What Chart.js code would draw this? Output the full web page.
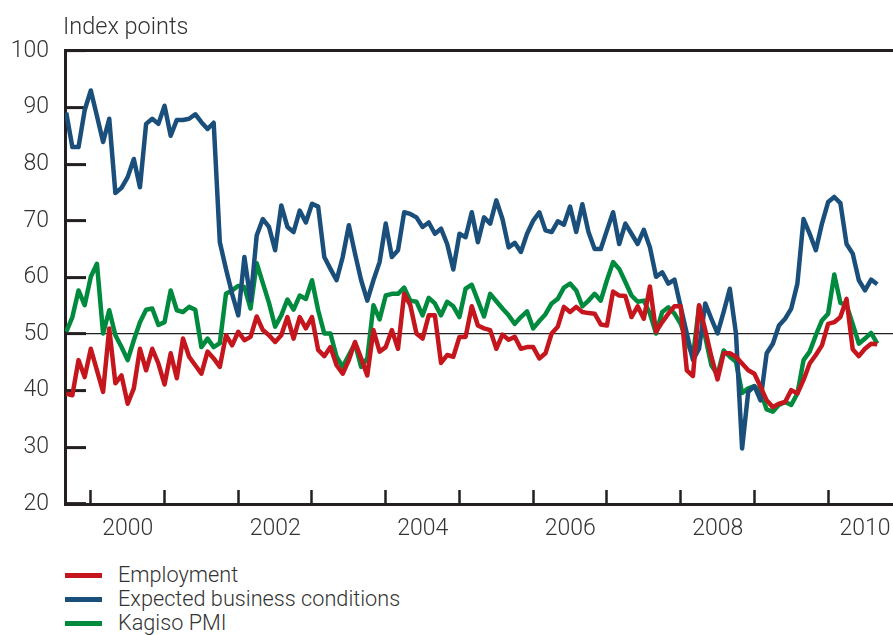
<!DOCTYPE html>
<html>
<head>
<meta charset="utf-8">
<title>Business confidence indices</title>
<script src="https://cdn.jsdelivr.net/npm/chart.js@4.4.0/dist/chart.umd.min.js"></script>
<style>
  html, body { margin: 0; padding: 0; background: #fff; }
  #wrap {
    position: relative; width: 893px; height: 635px; overflow: hidden;
    font-family: Roboto, 'Liberation Sans', sans-serif; font-weight: 300; color: #333;
  }
  #chart-box { position: absolute; left: 0; top: 0; width: 893px; height: 560px; }
  #unit { position: absolute; left: 63px; top: 13px; font-size: 23.5px; line-height: 26px; }
  #legend { position: absolute; left: 65px; top: 563px; margin: 0; padding: 0; list-style: none; font-size: 21.7px; }
  #legend li { display: flex; align-items: center; height: 24px; line-height: 24px; }
  #legend .swatch { width: 37px; height: 5px; margin-right: 16px; }
</style>
</head>
<body>
<div id="wrap">
  <div id="chart-box"><canvas id="pmi-chart"></canvas></div>
  <div id="unit">Index points</div>
  <ul id="legend"></ul>
</div>
<script>
// monthly series, September 1999 to September 2010
const startYear = 1999;
const startMonth = 8; // zero-based: September

const employment = [
  39.5, 39.2, 45.4, 42.4, 47.4, 43.6, 39.8, 51.0, 41.3, 42.7, 37.7, 40.4,
  47.4, 43.6, 47.4, 44.8, 41.1, 46.6, 42.2, 49.2, 46.0, 44.5, 43.0, 46.9,
  45.7, 44.2, 49.8, 48.0, 50.4, 48.9, 49.5, 53.1, 50.7, 49.8, 48.6, 49.8,
  53.0, 49.2, 53.0, 51.0, 53.0, 47.2, 46.1, 47.7, 44.5, 43.0, 45.4, 48.6,
  45.7, 42.7, 50.7, 46.9, 47.7, 50.7, 47.4, 57.1, 55.1, 50.1, 49.2, 53.3,
  53.3, 44.9, 46.3, 46.0, 49.5, 49.5, 54.9, 51.5, 51.0, 50.7, 47.4, 49.9,
  49.0, 49.5, 47.4, 47.7, 47.7, 45.7, 46.6, 50.1, 51.3, 54.8, 53.9, 54.8,
  53.9, 53.7, 53.6, 51.7, 51.5, 57.5, 56.8, 56.7, 53.0, 54.9, 52.7, 58.4,
  50.4, 52.1, 53.6, 54.9, 54.9, 43.6, 42.6, 55.1, 50.7, 46.0, 42.0, 46.6,
  46.6, 46.0, 44.8, 43.6, 43.0, 40.7, 38.3, 37.1, 37.7, 38.0, 40.1, 39.5,
  41.9, 44.8, 46.3, 48.0, 51.8, 52.1, 53.0, 56.2, 47.3, 46.1, 47.4, 48.3,
  48.2
];

const expectedConditions = [
  89.1, 83.0, 83.0, 89.5, 93.0, 88.5, 83.9, 88.0, 74.9, 75.8, 77.7, 80.9,
  75.9, 87.1, 88.0, 87.1, 90.3, 85.0, 87.8, 87.8, 88.0, 88.8, 87.4, 86.2,
  87.3, 66.2, 61.5, 57.1, 53.3, 63.6, 55.9, 67.4, 70.3, 68.9, 64.8, 72.7,
  68.9, 68.0, 71.8, 69.7, 73.0, 72.5, 63.6, 61.5, 59.5, 63.6, 69.2, 64.2,
  59.5, 55.9, 59.5, 62.7, 69.5, 63.6, 64.8, 71.5, 71.2, 70.6, 68.9, 69.7,
  67.7, 68.6, 65.9, 61.4, 67.7, 67.1, 71.5, 66.2, 70.6, 69.5, 73.6, 70.3,
  65.3, 66.1, 64.5, 67.7, 70.0, 71.5, 68.3, 68.0, 69.9, 69.3, 72.5, 68.0,
  72.9, 68.0, 65.0, 65.0, 68.3, 71.5, 65.9, 69.5, 67.7, 65.9, 68.4, 65.3,
  60.1, 60.9, 58.9, 59.6, 54.8, 50.1, 45.4, 47.4, 55.4, 52.7, 50.1, 53.9,
  58.0, 50.1, 29.8, 39.8, 40.8, 38.3, 46.6, 48.3, 51.5, 52.7, 54.5, 58.9,
  70.3, 67.7, 64.8, 69.5, 73.3, 74.2, 73.1, 65.9, 64.2, 59.5, 57.7, 59.6,
  58.8
];

const kagisoPmi = [
  50.4, 53.0, 57.7, 55.1, 60.1, 62.4, 50.1, 54.2, 49.8, 47.7, 45.4, 48.9,
  52.1, 54.3, 54.5, 51.6, 52.1, 57.7, 54.2, 53.9, 54.8, 54.3, 47.7, 49.2,
  47.7, 48.4, 57.1, 57.7, 58.5, 58.3, 54.5, 62.5, 59.0, 55.5, 51.3, 53.3,
  56.1, 54.3, 56.8, 56.2, 59.5, 54.2, 50.1, 50.1, 46.0, 44.2, 46.3, 48.3,
  44.2, 45.7, 55.1, 52.6, 56.8, 57.1, 57.1, 58.2, 55.9, 55.7, 53.3, 56.4,
  55.4, 53.3, 55.7, 54.9, 53.0, 58.0, 58.7, 55.9, 53.1, 57.1, 55.8, 54.5,
  53.3, 51.8, 53.0, 54.0, 51.0, 52.3, 53.5, 55.4, 56.2, 58.2, 58.9, 57.7,
  54.9, 55.9, 57.1, 55.9, 59.5, 62.7, 61.5, 59.2, 56.8, 55.7, 55.9, 53.6,
  50.1, 53.9, 54.7, 53.6, 51.8, 48.7, 46.0, 55.0, 49.5, 44.5, 42.8, 47.1,
  46.0, 45.1, 39.6, 40.4, 40.8, 39.8, 36.7, 36.3, 37.5, 38.0, 37.5, 39.5,
  45.4, 46.9, 49.8, 52.4, 53.6, 60.5, 55.5, 55.1, 51.8, 48.3, 49.2, 50.2,
  48.3
];

const yearTicks = [2000, 2001, 2002, 2003, 2004, 2005, 2006, 2007, 2008, 2009, 2010];
const labelledYears = [2000, 2002, 2004, 2006, 2008, 2010];

const axisMin = 1999.65;
const axisMax = 2010.88;
const ink = '#231f20';
const textGrey = '#333333';
const fontFamily = "Roboto, 'Liberation Sans', sans-serif";
const tickFont = { family: fontFamily, size: 23, weight: 300 };

// decimal-year position of each month
const monthPositions = employment.map((_, i) => startYear + (startMonth + i) / 12);

function toPoints(values) {
    return values.map((v, i) => ({ x: monthPositions[i], y: v }));
}

function lineSet(label, values, colour) {
    return {
        label: label,
        data: toPoints(values),
        borderColor: colour,
        backgroundColor: colour,
        borderWidth: 4.5,
        borderJoinStyle: 'round',
        pointRadius: 0,
        tension: 0,
        fill: false
    };
}

const chart = new Chart(document.getElementById('pmi-chart'), {
    type: 'line',
    data: {
        datasets: [
            lineSet('Employment', employment, '#c4161c'),
            lineSet('Expected business conditions', expectedConditions, '#1b4f7b'),
            lineSet('Kagiso PMI', kagisoPmi, '#008a3e')
        ]
    },
    options: {
        responsive: true,
        maintainAspectRatio: false,
        animation: false,
        layout: { padding: { top: 50, left: 0, right: 0, bottom: 0 } },
        plugins: {
            legend: { display: false },
            tooltip: { enabled: false }
        },
        scales: {
            x: {
                type: 'linear',
                position: 'bottom',
                min: axisMin,
                max: axisMax,
                afterBuildTicks: scale => {
                    scale.ticks = yearTicks.map(v => ({ value: v }));
                },
                afterFit: scale => { scale.height = 56; },
                ticks: {
                    autoSkip: false,
                    maxRotation: 0,
                    labelOffset: 37,
                    padding: 25,
                    color: textGrey,
                    font: tickFont,
                    callback: v => labelledYears.includes(v) ? String(v) : ''
                },
                grid: {
                    drawOnChartArea: false,
                    tickLength: -14,
                    tickWidth: 2.5,
                    tickColor: ink
                },
                border: { display: true, width: 3, color: ink }
            },
            xTop: {
                type: 'linear',
                position: 'top',
                min: axisMin,
                max: axisMax,
                afterFit: scale => { scale.height = 0; },
                ticks: { display: false },
                grid: { display: false },
                border: { display: true, width: 3, color: ink }
            },
            y: {
                min: 20,
                max: 100,
                afterFit: scale => { scale.width = 65; },
                ticks: {
                    stepSize: 10,
                    padding: 37,
                    color: textGrey,
                    font: tickFont
                },
                grid: {
                    drawOnChartArea: true,
                    color: ctx => (ctx.tick && ctx.tick.value === 50) ? ink : 'rgba(0,0,0,0)',
                    lineWidth: 1.2,
                    tickLength: -21,
                    tickWidth: 3,
                    tickColor: ink
                },
                border: { display: true, width: 3, color: ink }
            }
        }
    }
});

// legend list below the plot, one row per series
const legendEl = document.getElementById('legend');
chart.data.datasets.forEach(ds => {
    const li = document.createElement('li');
    const sw = document.createElement('span');
    sw.className = 'swatch';
    sw.style.background = ds.borderColor;
    li.appendChild(sw);
    li.appendChild(document.createTextNode(ds.label));
    legendEl.appendChild(li);
});
</script>
</body>
</html>
